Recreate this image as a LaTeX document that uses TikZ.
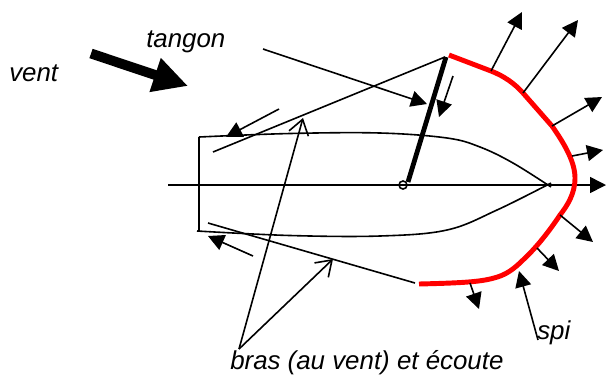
\documentclass[tikz,border=0pt]{standalone}
\usepackage{fontspec}
\setmainfont{Liberation Sans}
\usetikzlibrary{arrows.meta}

\begin{document}
\begin{tikzpicture}[x=0.75pt, y=-0.75pt, >=Stealth,
    fleche/.style={-{Triangle[length=12pt, width=12pt]}, line width=1.2pt},
    bras/.style={-{Straight Barb[length=11pt, width=15pt]}, line width=1.2pt},
    fil/.style={line width=1.2pt},
    etiquette/.style={font=\fontsize{19.4}{22}\selectfont\itshape, inner sep=0pt}]
      \useasboundingbox (0,0) rectangle (606,376);
      
      % coque et axe
      \draw[fleche] (168,185) -- (606,185);
      \draw[fil] (199,137) -- (199,231);
      \draw[fil] plot[smooth, tension=0.6] coordinates {(199,137) (290,133.5) (380,133) (447,138) (480,147) (513,163) (551,187)};
      \draw[fil] plot[smooth, tension=0.6] coordinates {(197,231) (290,235.5) (380,236) (447,230) (497,210) (551,183)};
      
      % tangon
      \draw[line width=3.6pt] (408,182) -- (446,57);
      \draw[fil] (403,185) circle (4);
      
      % spi
      \draw[red, line width=3.7pt, line join=round] (449,55) -- (491,71)
        .. controls (505,76.5) and (515,84) .. (523,93) -- (552,126)
        .. controls (566,146) and (575,163) .. (575,178)
        .. controls (575,194) and (567,206) .. (560,215)
        .. controls (552,227) and (539,245) .. (524,259)
        .. controls (514,269) and (506,275) .. (494,278)
        .. controls (480,282) and (460,283) .. (419,284);
      
      % bras et ecoute
      \draw[fil] (213,152) -- (445,57);
      \draw[fil] (208,223) -- (415,283);
      \draw[fleche] (279,109) -- (226,137);
      \draw[fleche] (253,256) -- (208,236);
      \draw[fleche] (453,76) -- (439,117);
      
      % poussee sur le spi
      \draw[fleche] (491,71) -- (522,12);
      \draw[fleche] (523,93) -- (578,20);
      \draw[fleche] (552,126) -- (602,97);
      \draw[fleche] (572,156) -- (603,150);
      \draw[fleche] (560,215) -- (593,242);
      \draw[fleche] (537,248) -- (559,271);
      \draw[fleche] (470,283) -- (479,309);
      
      % vent
      \draw[-{Triangle[length=26pt, width=25pt]}, line width=7.4pt] (91,53.5) -- (188,86);
      
      \node[etiquette, anchor=west] (vent) at (9,73) {vent};
      \node[etiquette, anchor=west] (tangon) at (146,42) {tangon};
      \node[etiquette, anchor=west] (spi) at (537,333) {spi};
      \node[etiquette, anchor=west] (brasecoute) at (230,363) {bras (au vent) et écoute};
      
      \coordinate (tangonfin) at (263,49);
      \coordinate (spifin) at (538,340);
      \coordinate (brasfin) at (239,349);
      
      \draw[fleche] (tangonfin) -- (427,104);
      \draw[fleche] (spifin) -- (519,271);
      \draw[bras] (brasfin) -- (303,118);
      \draw[bras] (brasfin) -- (333,259);
    \end{tikzpicture}
\end{document}
